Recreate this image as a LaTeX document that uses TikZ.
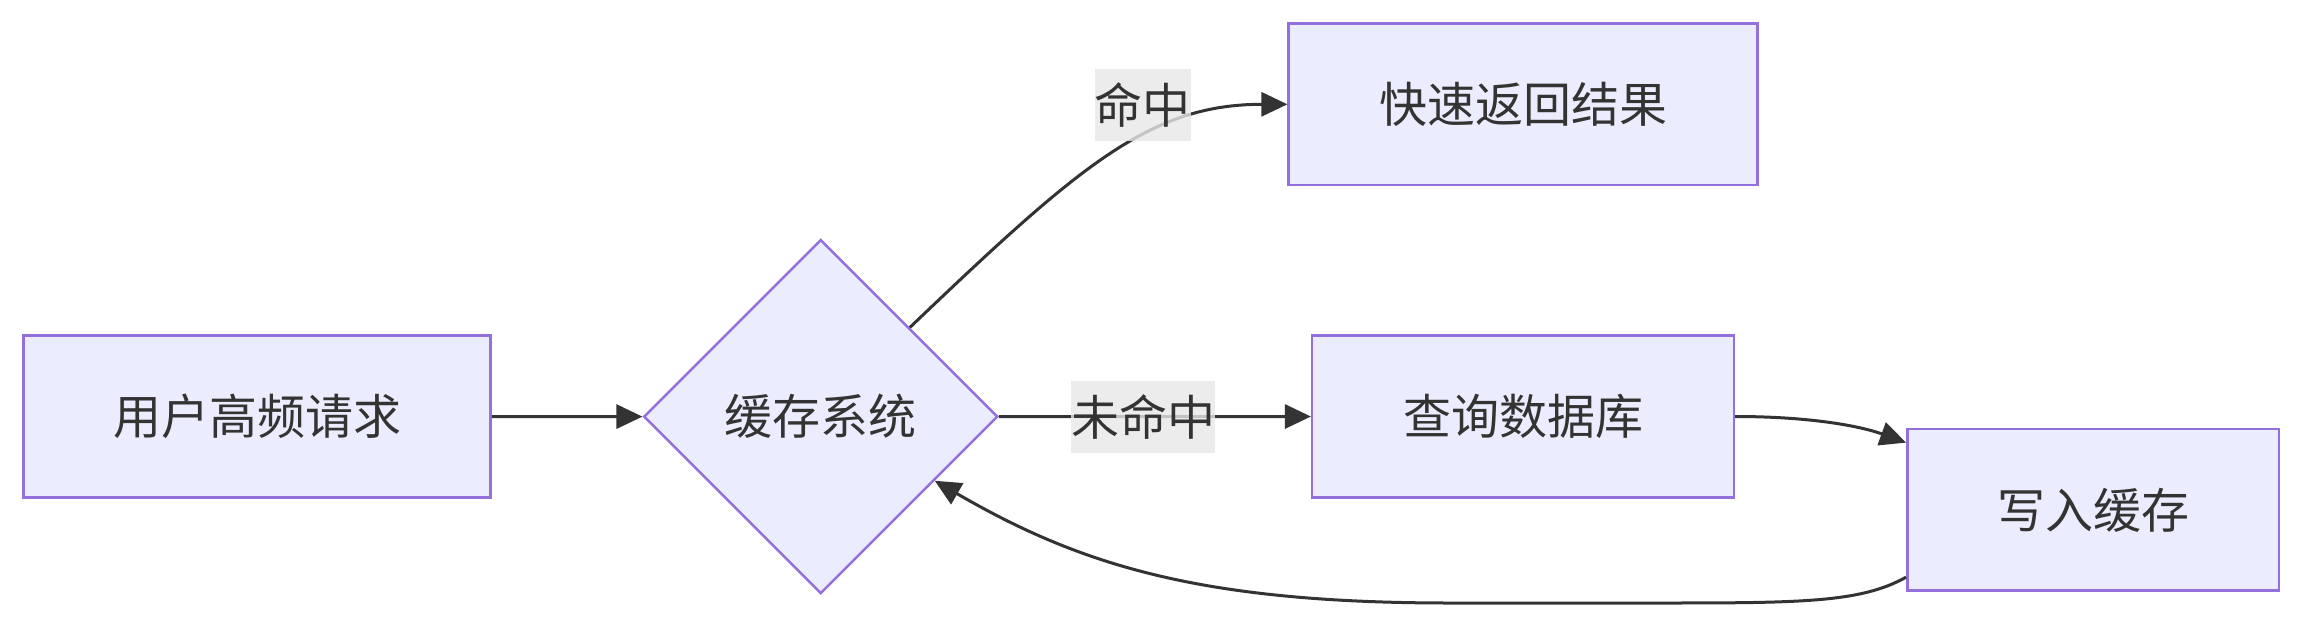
\documentclass[tikz,border=0pt]{standalone}
\usepackage{fontspec}
\newfontfamily\cjk{Noto Sans CJK SC}
\usetikzlibrary{shapes.geometric,arrows.meta,calc}
\definecolor{nodefill}{HTML}{ECECFF}
\definecolor{nodeline}{HTML}{9370DB}
\definecolor{edgecol}{HTML}{333333}
\definecolor{lblbg}{HTML}{E8E8E8}
\definecolor{txtcol}{HTML}{333333}
\begin{document}
\begin{tikzpicture}[x=1pt,y=-1pt,
 every node/.style={font=\cjk\fontsize{48}{56}\selectfont, text=txtcol},
 box/.style={draw=nodeline, fill=nodefill, line width=2.5pt, rectangle, minimum height=161.6pt, inner sep=0pt},
 dia/.style={draw=nodeline, fill=nodefill, line width=2.5pt, diamond, minimum width=354pt, minimum height=354pt, inner sep=0pt},
 conn/.style={draw=edgecol, line width=3pt, -{Triangle[length=26pt,width=24pt]}},
 lbl/.style={fill=lblbg, fill opacity=0.8, text opacity=1, inner xsep=0pt, inner ysep=0pt, minimum height=72pt}]
\useasboundingbox[fill=white] (0,0) rectangle (2304,627);
\node[box, minimum width=467pt] (a) at (257,416.5) {用户高频请求};
\node[dia] (d) at (820.7,416.6) {缓存系统};
\node[box, minimum width=468.7pt] (r) at (1523,104.3) {快速返回结果};
\node[box, minimum width=421.7pt] (q) at (1523,416.5) {查询数据库};
\node[box, minimum width=371.8pt] (w) at (2093.2,509.9) {写入缓存};
\draw[conn] (a.east) -- (d.west);
\draw[conn] (d.north east) .. controls (1080,165) and (1150,104.3) .. (r.west);
\draw[conn] (d.east) -- (q.west);
\draw[conn] (q.east) .. controls (1810,416.5) and (1860,426) .. ($(w.north west)!0.09!(w.south west)$);
\draw[conn] ($(w.north west)!0.91!(w.south west)$) .. controls (1860,603) and (1800,603) .. (1650,603) -- (1450,603) .. controls (1200,603) and (1080,565) .. ($(d.east)!0.36!(d.south)$);
\node[lbl] (l1) at (1142.5,105) {命中};
\node[lbl] (l2) at (1143,416.6) {未命中};
\end{tikzpicture}
\end{document}
